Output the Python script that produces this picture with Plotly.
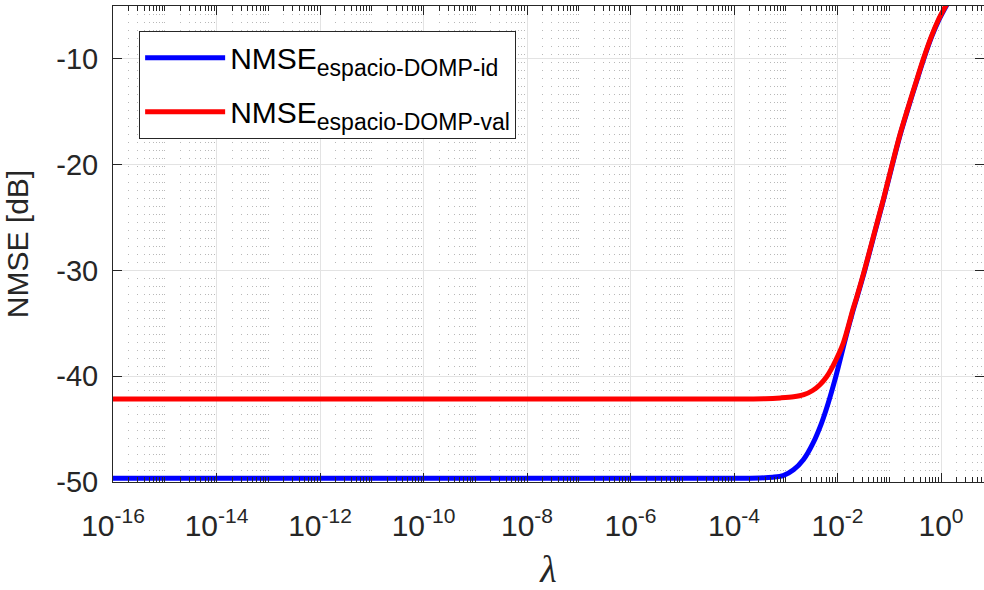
import plotly.graph_objects as go

# Regularisation parameter (log10 of lambda) and NMSE in dB
log_lambda_id = [-16, -8, -4, -3.5, -3.25, -3.05, -2.85, -2.66, -2.47, -2.31, -2.18,
                 -2.05, -1.95, -1.82, -1.70, -1.63, -1.48, -1.29, -1.11, -0.95,
                 -0.79, -0.63, -0.49, -0.34, -0.18, -0.05, 0.09, 0.25]
nmse_id = [-49.65, -49.65, -49.65, -49.62, -49.55, -49.4, -48.85, -47.9, -46.3, -44.45,
           -42.55, -40.35, -38.45, -35.95, -33.8, -32.65, -30.1, -26.6, -23.3, -20.2,
           -17.2, -14.6, -12.4, -10.1, -7.9, -6.4, -5.1, -3.7]

log_lambda_val = [-16, -8, -4, -3.4, -3.1, -2.85, -2.65, -2.48, -2.34, -2.21, -2.08, -1.89,
                  -1.70, -1.63, -1.48, -1.29, -1.11, -0.95, -0.79, -0.63, -0.49,
                  -0.34, -0.18, -0.05, 0.09, 0.25]
nmse_val = [-42.15, -42.15, -42.15, -42.12, -42.05, -41.95, -41.75, -41.35, -40.8, -40.05,
            -38.95, -36.9, -33.65, -32.55, -30.0, -26.5, -23.2, -20.1, -17.1, -14.5,
            -12.3, -10.0, -7.8, -6.3, -5.0, -3.6]

lambda_id = [10 ** e for e in log_lambda_id]
lambda_val = [10 ** e for e in log_lambda_val]

x_exponents = [-16, -14, -12, -10, -8, -6, -4, -2, 0]
x_tickvals = [10.0 ** e for e in x_exponents]
x_ticktext = [f"10<sup>{e}</sup>" for e in x_exponents]
# minor positions: 2..9 within each decade plus the unlabelled decades
x_minor = []
for d in range(-16, 1):
    if d % 2 != 0:
        x_minor.append(10.0 ** d)
    for m in range(2, 10):
        x_minor.append(m * 10.0 ** d)

y_tickvals = [-50, -40, -30, -20, -10]
y_ticktext = [str(v) for v in y_tickvals]

axis_color = "#262626"
font_family = "Liberation Sans, Arial, sans-serif"

SUB = '<sub><span style="font-size:23px">{}</span></sub>'

fig = go.Figure()
fig.add_trace(go.Scatter(
    x=lambda_id, y=nmse_id, mode="lines", legendgroup="id",
    line=dict(color="#0000FF", width=5, shape="spline", smoothing=0.8),
    name="NMSE" + SUB.format("espacio-DOMP-id"),
))
fig.add_trace(go.Scatter(
    x=lambda_val, y=nmse_val, mode="lines", legendgroup="val",
    line=dict(color="#FF0000", width=5, shape="spline", smoothing=0.8),
    name="NMSE" + SUB.format("espacio-DOMP-val"),
))

fig.update_layout(
    width=984, height=590,
    margin=dict(l=113, r=0, t=6, b=108),
    paper_bgcolor="white", plot_bgcolor="white",
    font=dict(family=font_family, size=29, color=axis_color),
    showlegend=True,
    legend=dict(
        x=0.03, y=0.948, xanchor="left", yanchor="top",
        bgcolor="white", bordercolor=axis_color, borderwidth=1,
        font=dict(family=font_family, size=30, color="black"),
        itemwidth=80, tracegroupgap=12,
    ),
)

fig.update_xaxes(
    type="log", range=[-16, 0.831],
    tickmode="array", tickvals=x_tickvals, ticktext=x_ticktext,
    ticks="inside", ticklen=9, tickwidth=1, tickcolor=axis_color,
    showline=True, linecolor=axis_color, linewidth=1, mirror="allticks",
    showgrid=True, gridcolor="#e3e3e3", gridwidth=1,
    minor=dict(tickmode="array", tickvals=x_minor, ticks="inside", ticklen=5,
               tickcolor=axis_color, tickwidth=1, showgrid=True,
               gridcolor="#b8b8b8", gridwidth=1, griddash="1px,7px"),
    tickfont=dict(size=30, color=axis_color),
    ticklabelstandoff=17,
    title=dict(text="<i>λ</i>",
               font=dict(family="Liberation Serif, DejaVu Serif, serif", size=38,
                         color=axis_color),
               standoff=18),
    zeroline=False,
)

fig.update_yaxes(
    range=[-50, -5],
    tickmode="array", tickvals=y_tickvals, ticktext=y_ticktext,
    ticks="inside", ticklen=9, tickwidth=1, tickcolor=axis_color,
    showline=True, linecolor=axis_color, linewidth=1, mirror="allticks",
    showgrid=True, gridcolor="#e3e3e3", gridwidth=1,
    tickfont=dict(size=29, color=axis_color),
    ticklabelstandoff=8,
    title=dict(text="NMSE [dB]", font=dict(size=30, color=axis_color), standoff=18),
    zeroline=False,
)

fig.write_html("out.html")
